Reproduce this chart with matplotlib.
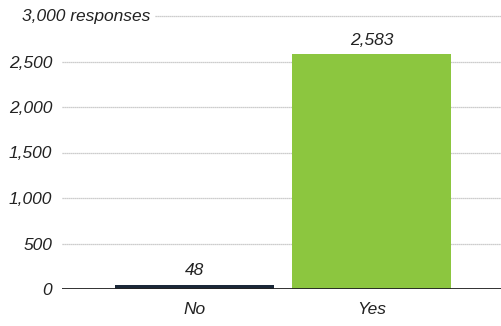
import matplotlib

matplotlib.use("Agg")
import matplotlib.pyplot as plt
from matplotlib.ticker import FuncFormatter

categories = ["No", "Yes"]
responses = [48, 2583]
bar_colors = ["#1b2838", "#8cc63f"]
y_ticks = [0, 500, 1000, 1500, 2000, 2500, 3000]
top_label = "3,000 responses"

plt.rcParams["font.family"] = ["Liberation Sans", "DejaVu Sans"]
plt.rcParams["font.style"] = "italic"

fig = plt.figure(figsize=(5.01, 3.26), dpi=100)
ax = fig.add_axes([62 / 501, 1 - 289 / 326, 439 / 501, (289 - 16) / 326])

x = range(len(categories))
bars = ax.bar(x, responses, width=0.9, color=bar_colors, zorder=3)
for rect, v in zip(bars, responses):
    ax.text(rect.get_x() + rect.get_width() / 2, v + 70, f"{v:,}",
            ha="center", va="bottom", fontsize=12.5, color="#222222")

ax.set_xlim(-0.75, 1.73)
ax.set_ylim(0, 3000)
ax.set_yticks(y_ticks)
# the top tick gets its own longer label, drawn separately
ax.yaxis.set_major_formatter(FuncFormatter(lambda v, _: "" if v == 3000 else f"{int(v):,}"))
ax.set_xticks(list(x))
ax.set_xticklabels(categories)
ax.tick_params(axis="both", length=0, labelsize=12.5, colors="#222222")
ax.tick_params(axis="y", pad=7)
ax.tick_params(axis="x", pad=9)

ax.grid(axis="y", color="#bdbdbd", linestyle=(0, (1, 0.6)), linewidth=0.9, zorder=0)
ax.axhline(0, color="#222222", linewidth=1.3, zorder=4)
for s in ax.spines.values():
    s.set_visible(False)

ax.get_ygridlines()[-1].set_visible(False)
ax.text(150 / 501, 1 - 16 / 326, top_label, transform=fig.transFigure,
        ha="right", va="center", fontsize=12.5, color="#222222")
ax.plot([(155 - 62) / 439, 1.0], [3000, 3000], transform=ax.get_yaxis_transform(),
        color="#bdbdbd", linestyle=(0, (1, 0.6)), linewidth=0.9, clip_on=False)

fig.savefig("out.png", dpi=100)
